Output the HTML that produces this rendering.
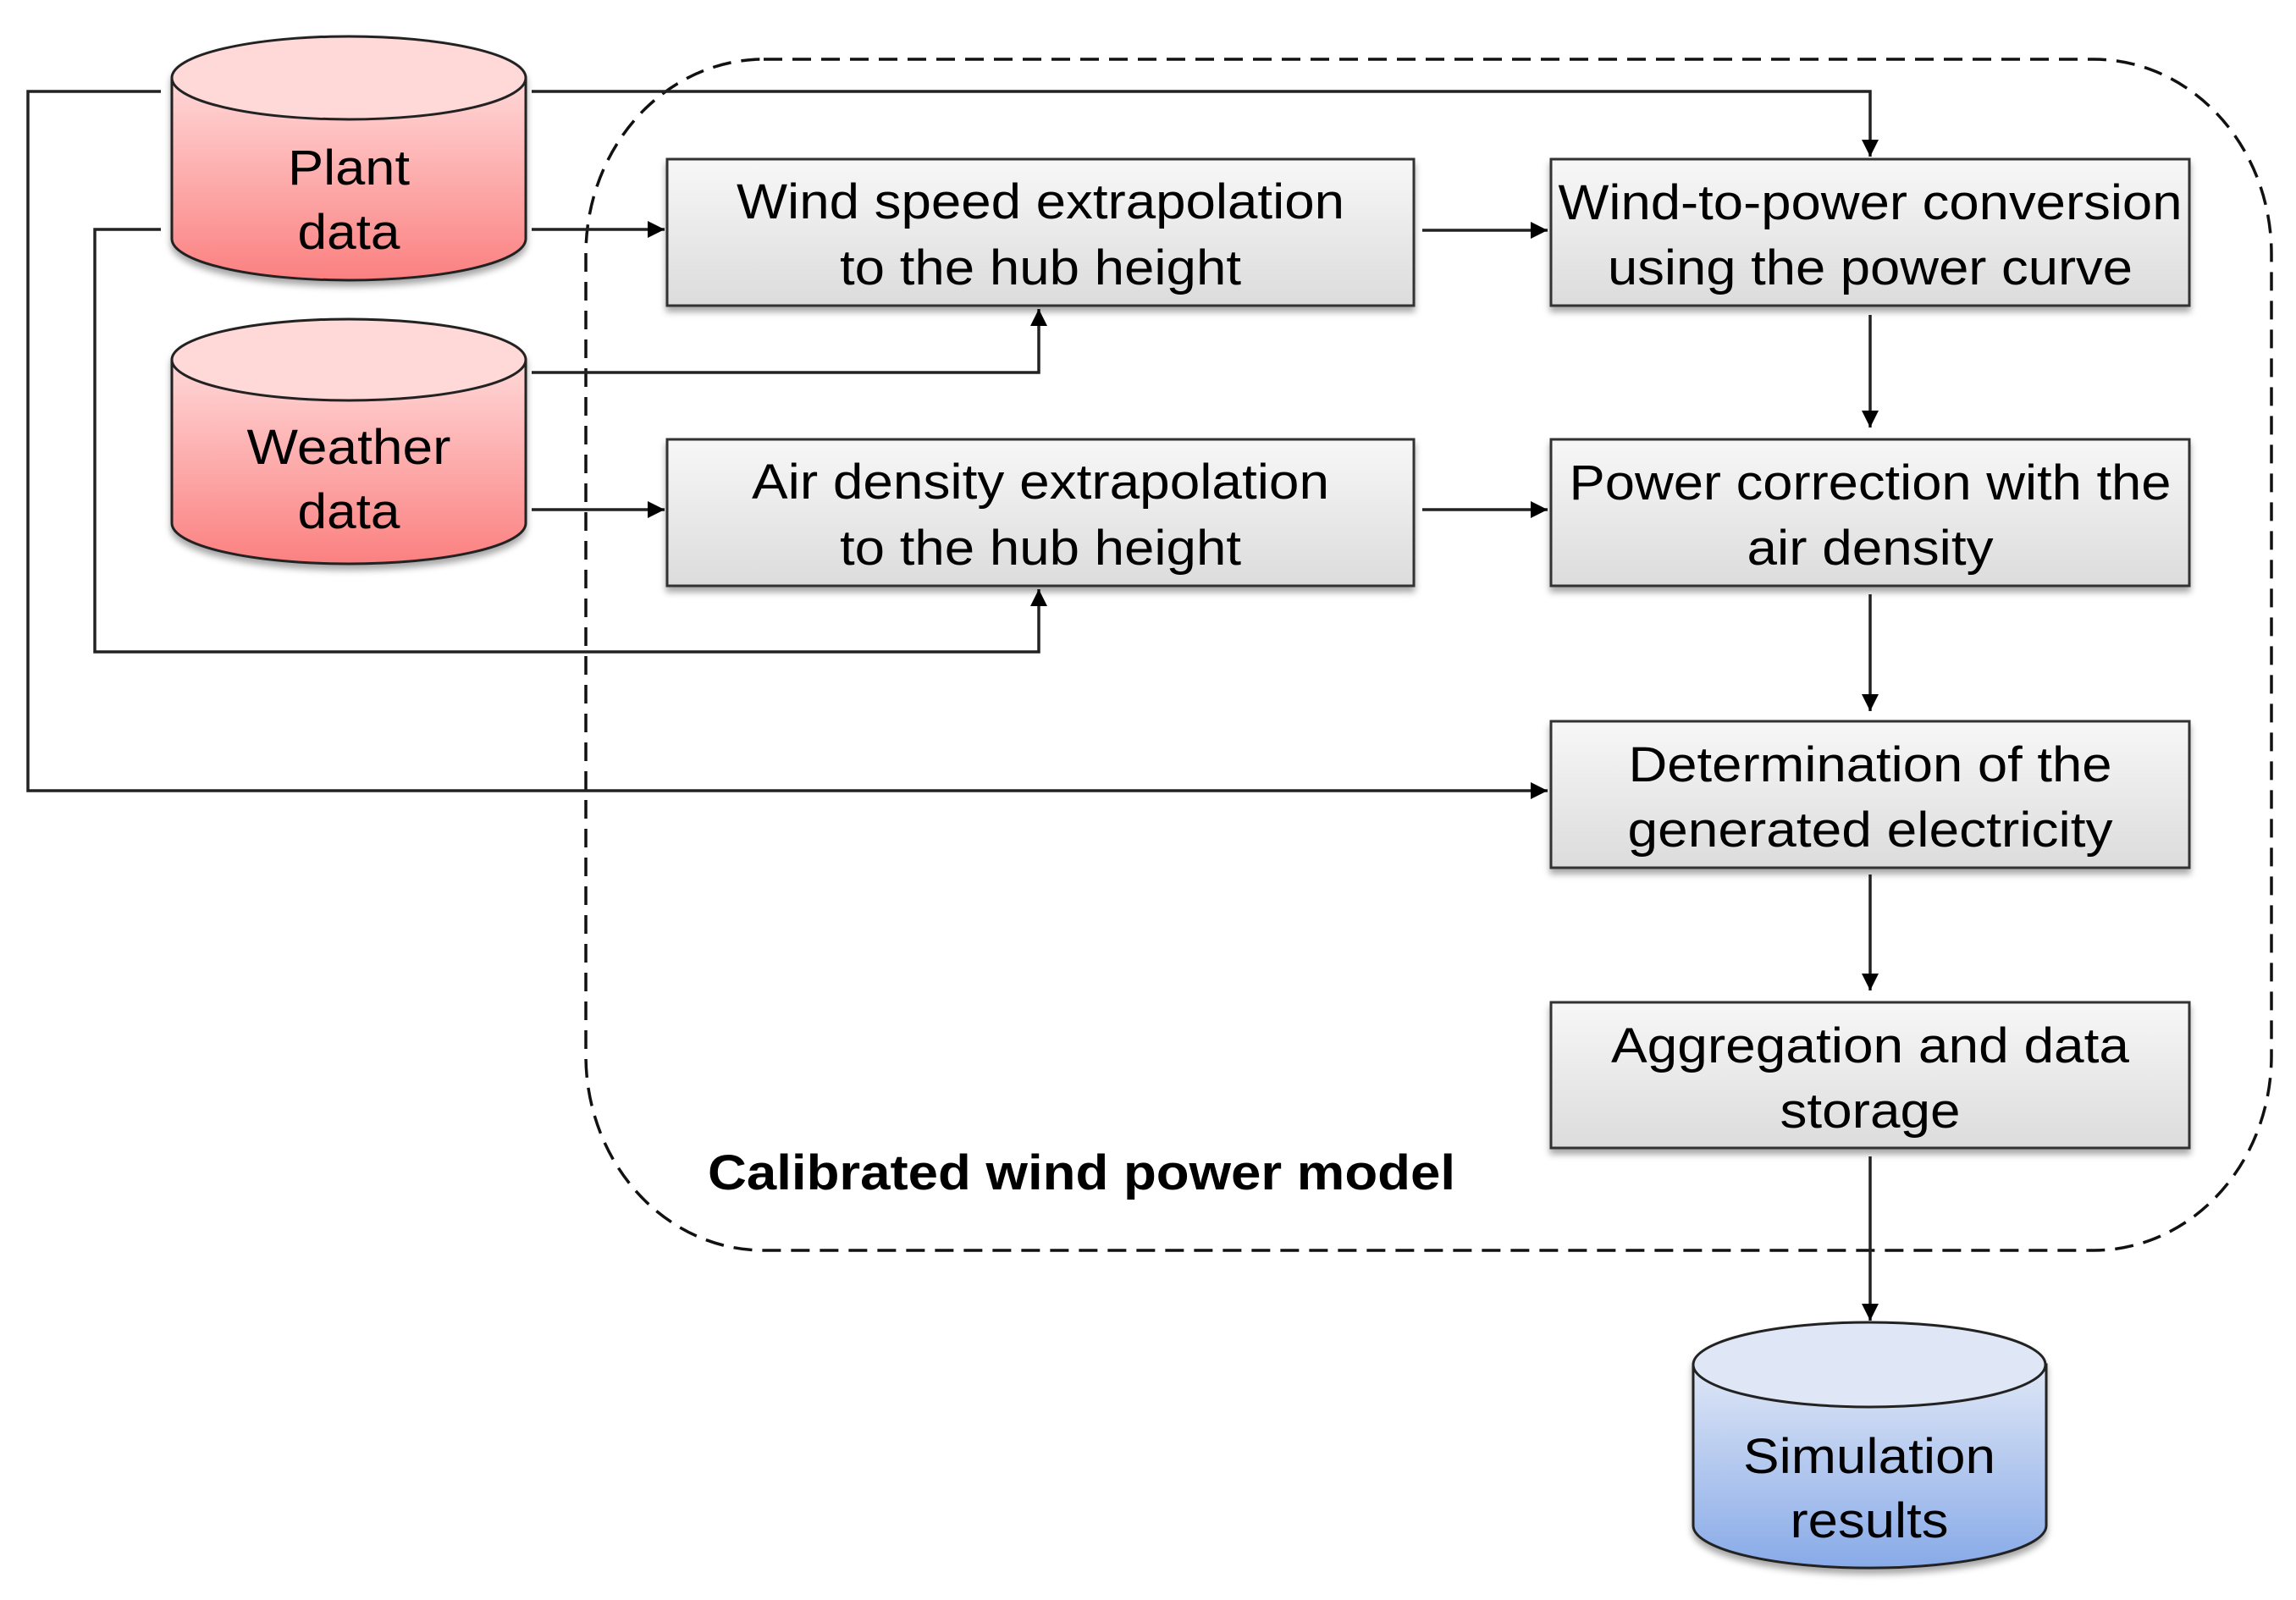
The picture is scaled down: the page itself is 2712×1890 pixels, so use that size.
<!DOCTYPE html>
<html><head><meta charset="utf-8"><style>
html,body{margin:0;padding:0;background:#fff;}
svg{display:block;}
text{font-family:"Liberation Sans",Arial,sans-serif;fill:#000;}
</style></head><body>
<svg width="2712" height="1890" viewBox="0 0 2712 1890" xmlns="http://www.w3.org/2000/svg">
<defs>
<linearGradient id="red" x1="0" y1="0" x2="0" y2="1"><stop offset="0" stop-color="#ffd8d8"/><stop offset="1" stop-color="#fb8080"/></linearGradient>
<linearGradient id="blue" x1="0" y1="0" x2="0" y2="1"><stop offset="0" stop-color="#dfe7f6"/><stop offset="1" stop-color="#88aae8"/></linearGradient>
<linearGradient id="box" x1="0" y1="0" x2="0" y2="1"><stop offset="0" stop-color="#f7f7f7"/><stop offset="1" stop-color="#dcdcdc"/></linearGradient>
<filter id="sh" x="-10%" y="-10%" width="120%" height="130%"><feDropShadow dx="0" dy="6" stdDeviation="4" flood-color="#000" flood-opacity="0.35"/></filter>
<marker id="ar" viewBox="0 0 10 10" refX="10" refY="5" markerWidth="22" markerHeight="20" markerUnits="userSpaceOnUse" orient="auto"><path d="M0,0 L10,5 L0,10 z" fill="#000"/></marker>
</defs>

<path d="M902,70 L2473,70 A210,230 0 0 1 2683,300 L2683,1247 A210,230 0 0 1 2473,1477 L902,1477 A210,230 0 0 1 692,1247 L692,300 A210,230 0 0 1 902,70 Z" fill="none" stroke="#111" stroke-width="3.5" stroke-dasharray="22,12"/>

<g fill="none" stroke="#222" stroke-width="3.5">
<polyline points="190,108 33,108 33,934 1828,934" marker-end="url(#ar)"/>
<polyline points="628,108 2209,108 2209,185" marker-end="url(#ar)"/>
<polyline points="190,271 112,271 112,770 1227,770 1227,696" marker-end="url(#ar)"/>
<line x1="628" y1="271" x2="785" y2="271" marker-end="url(#ar)"/>
<polyline points="628,440 1227,440 1227,365" marker-end="url(#ar)"/>
<line x1="628" y1="602" x2="785" y2="602" marker-end="url(#ar)"/>
<line x1="1680" y1="272" x2="1828" y2="272" marker-end="url(#ar)"/>
<line x1="1680" y1="602" x2="1828" y2="602" marker-end="url(#ar)"/>
<line x1="2209" y1="372" x2="2209" y2="505" marker-end="url(#ar)"/>
<line x1="2209" y1="702" x2="2209" y2="840" marker-end="url(#ar)"/>
<line x1="2209" y1="1033" x2="2209" y2="1170" marker-end="url(#ar)"/>
<line x1="2209" y1="1366" x2="2209" y2="1560" marker-end="url(#ar)"/>
</g>

<g stroke="#222" stroke-width="3" filter="url(#sh)">
<path d="M203,92 L203,282 A209,49 0 0 0 621,282 L621,92 Z" fill="url(#red)"/>
<ellipse cx="412" cy="92" rx="209" ry="49" fill="#ffd8d8"/>
<path d="M203,425 L203,618 A209,48 0 0 0 621,618 L621,425 Z" fill="url(#red)"/>
<ellipse cx="412" cy="425" rx="209" ry="48" fill="#ffd8d8"/>
<path d="M2000,1612 L2000,1802 A208,50 0 0 0 2417,1802 L2417,1612 Z" fill="url(#blue)"/>
<ellipse cx="2208" cy="1612" rx="208" ry="50" fill="#dfe7f6"/>
</g>

<g stroke="#333" stroke-width="3" fill="url(#box)" filter="url(#sh)">
<rect x="788" y="188" width="882" height="173"/>
<rect x="788" y="519" width="882" height="173"/>
<rect x="1832" y="188" width="754" height="173"/>
<rect x="1832" y="519" width="754" height="173"/>
<rect x="1832" y="852" width="754" height="173"/>
<rect x="1832" y="1184" width="754" height="172"/>
</g>

<g font-size="58" text-anchor="middle">
<text x="1229" y="258" textLength="718" lengthAdjust="spacingAndGlyphs">Wind speed extrapolation</text>
<text x="1229" y="336" textLength="474" lengthAdjust="spacingAndGlyphs">to the hub height</text>
<text x="1229" y="589" textLength="682" lengthAdjust="spacingAndGlyphs">Air density extrapolation</text>
<text x="1229" y="667" textLength="474" lengthAdjust="spacingAndGlyphs">to the hub height</text>
<text x="2209" y="259" textLength="737" lengthAdjust="spacingAndGlyphs">Wind-to-power conversion</text>
<text x="2209" y="336" textLength="620" lengthAdjust="spacingAndGlyphs">using the power curve</text>
<text x="2209" y="590" textLength="711" lengthAdjust="spacingAndGlyphs">Power correction with the</text>
<text x="2209" y="667" textLength="291" lengthAdjust="spacingAndGlyphs">air density</text>
<text x="2209" y="923" textLength="571" lengthAdjust="spacingAndGlyphs">Determination of the</text>
<text x="2209" y="1000" textLength="573" lengthAdjust="spacingAndGlyphs">generated electricity</text>
<text x="2209" y="1255" textLength="612" lengthAdjust="spacingAndGlyphs">Aggregation and data</text>
<text x="2209" y="1332" textLength="213" lengthAdjust="spacingAndGlyphs">storage</text>
<text x="412" y="218" textLength="144" lengthAdjust="spacingAndGlyphs">Plant</text>
<text x="412" y="294" textLength="121" lengthAdjust="spacingAndGlyphs">data</text>
<text x="412" y="548" textLength="241" lengthAdjust="spacingAndGlyphs">Weather</text>
<text x="412" y="624" textLength="121" lengthAdjust="spacingAndGlyphs">data</text>
<text x="2208" y="1740" textLength="298" lengthAdjust="spacingAndGlyphs">Simulation</text>
<text x="2208" y="1816" textLength="187" lengthAdjust="spacingAndGlyphs">results</text>
</g>
<text x="836" y="1405" font-size="58" font-weight="bold" textLength="883" lengthAdjust="spacingAndGlyphs">Calibrated wind power model</text>
</svg>
</body></html>
